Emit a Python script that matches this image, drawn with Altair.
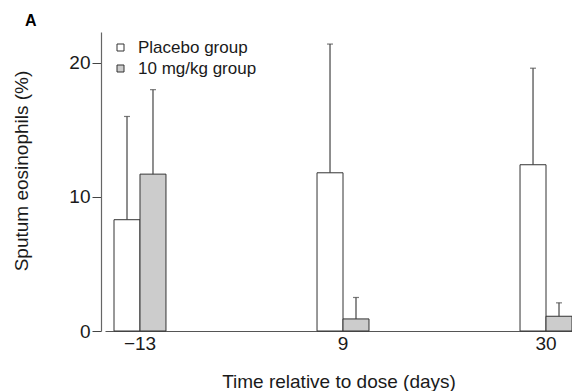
import altair as alt
import pandas as pd

days = ["\u221213", "9", "30"]
groups = ["Placebo group", "10 mg/kg group"]
placebo_mean = [8.3, 11.8, 12.4]
placebo_upper = [16.0, 21.4, 19.6]
dose_mean = [11.7, 0.9, 1.1]
dose_upper = [18.0, 2.5, 2.1]

rows = []
for i, d in enumerate(days):
    rows.append({"day": d, "group": groups[0], "value": placebo_mean[i], "upper": placebo_upper[i]})
    rows.append({"day": d, "group": groups[1], "value": dose_mean[i], "upper": dose_upper[i]})
df = pd.DataFrame(rows)

FONT = "Liberation Sans"
TXT = "#1a1a1a"

x_enc = alt.X(
    "day:N",
    sort=days,
    scale=alt.Scale(paddingInner=0.744, paddingOuter=0.0222, align=1),
    axis=alt.Axis(
        ticks=False, labelAngle=0, labelPadding=3, labelFontSize=19, labelColor=TXT,
        labelFont=FONT, domainColor="#555", domainWidth=1.2,
        title="Time relative to dose (days)", titleFontSize=19, titleFont=FONT,
        titleFontWeight="normal", titleColor=TXT, titlePadding=19,
    ),
)
xo_enc = alt.XOffset("group:N", sort=groups, scale=alt.Scale(paddingInner=0, paddingOuter=0))
y_scale = alt.Scale(domain=[0, 22.3], nice=False)

base = alt.Chart(df).encode(x=x_enc, xOffset=xo_enc)

bars = base.mark_bar(stroke="#333", strokeWidth=1).encode(
    y=alt.Y(
        "value:Q",
        scale=y_scale,
        axis=alt.Axis(
            values=[0, 10, 20], tickSize=9, labelPadding=2, offset=4, grid=False,
            domainColor="#666", domainWidth=1.2, tickColor="#444",
            labelFontSize=19, labelFont=FONT, labelColor=TXT,
            title="Sputum eosinophils (%)", titleFontSize=19, titleFont=FONT,
            titleFontWeight="normal", titleColor=TXT,
            titleX=-80, titleY=138.5, titleBaseline="middle",
        ),
    ),
    fill=alt.Fill(
        "group:N",
        sort=groups,
        scale=alt.Scale(domain=groups, range=["#ffffff", "#cccccc"]),
        legend=alt.Legend(
            orient="none", legendX=7, legendY=7, title=None,
            symbolType="square", symbolSize=49, symbolStrokeColor="#333",
            symbolStrokeWidth=1, labelFontSize=17, labelFont=FONT, labelColor=TXT,
            labelOffset=9, rowPadding=3, padding=0,
        ),
    ),
)

rules = base.mark_rule(color="#444", strokeWidth=1.2).encode(
    y=alt.Y("value:Q", scale=y_scale), y2="upper:Q"
)
caps = base.mark_tick(color="#444", size=6, thickness=1.2, orient="horizontal").encode(
    y=alt.Y("upper:Q", scale=y_scale)
)

chart = alt.layer(bars, rules, caps).properties(
    width=467,
    height=299,
    autosize="none",
    padding={"left": 105, "top": 32, "right": 0, "bottom": 60},
    title=alt.TitleParams(
        "A", anchor="start", fontSize=16, fontWeight="bold", font=FONT, color="#000",
        dx=-80, dy=17, offset=7, baseline="alphabetic", frame="group",
    ),
).configure_view(stroke=None)

chart.save("out.html", embed_options={"renderer": "svg", "actions": False})
